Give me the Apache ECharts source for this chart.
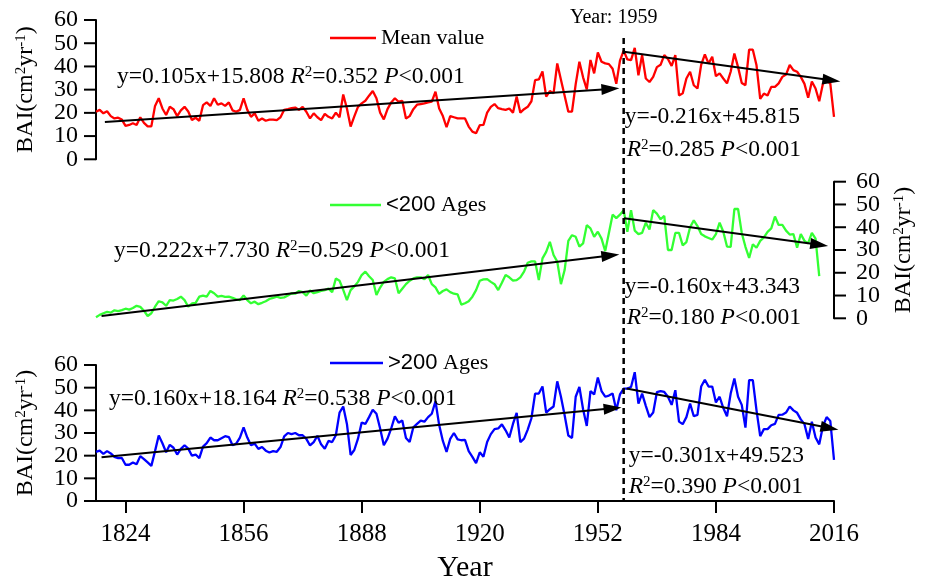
<!DOCTYPE html>
<html><head><meta charset="utf-8">
<script src="https://cdn.jsdelivr.net/npm/echarts@6/dist/echarts.min.js"></script>
<style>html,body{margin:0;padding:0;background:#fff}#c{width:928px;height:584px}</style>
</head><body><div id="c"></div>
<script>
// ---------- data ----------
const startYear = 1816;
const xTicks = [1824, 1856, 1888, 1920, 1952, 1984, 2016];
const yTicks = [0, 10, 20, 30, 40, 50, 60];
const breakYear = 1959;

// Mean value, 1816-2016
const meanValues = [
  20.5,21.3,19.8,20.7,18.6,17.6,17.9,17.1,14.4,14.8,
  15.5,14.8,18.1,15.7,14.2,14.2,23.0,26.3,21.9,19.1,
  22.6,21.6,18.6,21.1,22.6,20.6,16.9,17.9,16.6,23.3,
  24.5,23.0,26.3,23.5,24.1,23.0,24.5,21.1,20.5,21.3,
  26.3,21.3,18.3,19.8,16.6,17.6,16.6,17.1,17.1,16.9,
  18.1,21.3,21.6,22.0,22.3,21.3,22.6,20.5,17.6,19.8,
  18.1,16.9,19.6,18.3,17.6,20.1,18.1,27.9,21.9,14.1,
  18.5,22.6,24.1,25.2,27.4,29.4,26.3,20.1,17.2,21.6,
  24.5,26.3,24.8,25.2,17.6,18.6,21.6,23.5,23.8,24.1,
  24.5,24.8,29.1,21.9,18.6,13.8,18.6,18.1,17.6,17.6,
  17.6,14.1,11.9,11.2,14.7,14.8,20.1,22.6,23.8,22.0,
  21.6,21.3,21.9,20.1,27.0,20.1,21.6,22.6,25.0,34.1,
  34.4,37.8,27.0,29.4,28.4,41.3,34.3,27.4,20.5,20.5,
  32.4,42.0,35.3,30.1,42.8,37.0,46.0,42.0,41.3,41.0,
  39.0,32.5,42.5,46.8,43.0,42.7,48.0,36.2,44.9,34.8,
  33.3,35.5,39.7,40.7,44.9,43.2,40.2,44.9,27.5,28.4,
  34.8,37.7,31.9,30.5,40.7,45.2,41.2,44.2,35.8,37.0,
  34.8,32.7,37.7,45.6,39.7,32.9,31.9,47.2,47.2,40.5,
  26.0,28.3,27.5,31.2,31.2,32.7,35.5,36.5,40.6,38.4,
  37.7,35.5,32.5,26.5,33.5,30.5,25.0,32.5,34.0,32.6,
  18.3
];
// <200 Ages, 1816-2012
const youngValues = [
  0.5,1.5,2.2,2.8,2.5,3.5,3.2,3.6,4.2,3.8,
  4.5,5.5,5.0,3.3,1.0,2.2,5.1,7.5,7.0,5.5,
  8.0,7.8,8.5,9.5,8.0,5.1,6.5,6.8,9.5,10.0,
  9.5,12.0,11.0,9.5,9.8,9.4,9.5,9.0,8.3,8.0,
  10.0,8.0,6.6,7.3,6.2,6.8,7.5,8.5,9.0,9.5,
  9.0,9.2,10.0,11.0,10.8,12.0,11.5,10.0,12.2,11.0,
  11.5,12.0,12.4,13.0,11.5,17.5,16.5,12.5,8.0,12.4,
  14.0,16.0,19.0,20.5,18.5,16.8,10.2,13.5,16.0,17.2,
  18.0,17.5,11.0,13.0,15.0,16.5,17.5,18.0,18.0,17.1,
  19.0,15.0,13.6,10.7,12.0,12.7,11.5,10.8,10.5,6.0,
  6.6,7.5,9.5,12.4,16.5,17.1,17.2,16.0,15.0,12.4,
  15.6,19.0,18.0,16.6,16.8,18.0,20.5,24.4,25.0,25.0,
  16.8,26.3,29.2,33.6,27.8,24.9,15.0,21.2,34.0,36.5,
  35.8,31.5,32.9,40.9,39.5,35.8,38.0,35.0,29.5,37.5,
  45.5,44.0,45.5,47.5,38.0,47.5,38.5,37.0,37.5,42.0,
  39.0,47.5,46.0,43.5,45.0,30.0,30.0,37.5,37.5,32.0,
  33.5,40.0,43.0,40.5,37.0,36.0,35.3,34.6,37.0,42.0,
  38.0,31.5,31.4,48.0,48.0,37.5,31.4,26.5,32.5,31.0,
  34.0,35.5,38.0,39.5,44.7,41.0,41.0,38.5,36.8,37.0,
  31.0,37.0,34.0,33.0,37.5,35.0,18.5
];
// >200 Ages, 1816-2016
const oldValues = [
  21.7,22.2,20.8,22.0,21.0,19.5,18.9,19.0,16.0,16.0,
  17.0,16.2,19.8,18.5,17.0,15.5,22.0,28.9,25.5,21.5,
  24.8,23.5,20.5,23.0,24.6,23.1,20.0,20.5,18.9,24.0,
  25.5,28.0,26.8,26.8,27.7,28.6,28.2,24.6,25.3,28.0,
  32.5,28.0,24.6,25.3,23.0,23.8,22.2,21.4,22.0,21.7,
  23.8,28.5,30.0,29.5,30.0,29.0,29.0,27.4,24.5,26.0,
  28.8,25.0,23.1,26.5,26.0,29.0,39.0,41.7,34.0,20.3,
  22.5,27.5,34.6,34.0,37.0,40.3,38.5,32.0,24.6,27.5,
  32.0,37.4,34.5,35.5,27.8,26.0,32.5,34.0,35.5,35.0,
  37.0,38.5,44.0,33.5,26.5,21.7,27.4,30.0,27.2,26.8,
  27.0,22.0,19.5,16.7,21.5,19.5,26.0,29.5,31.7,32.0,
  33.8,31.2,28.0,34.0,38.9,26.0,27.5,31.5,36.5,47.4,
  47.4,50.5,39.0,40.5,41.7,52.8,46.0,37.8,28.9,27.8,
  46.0,50.3,40.5,33.1,48.5,47.0,54.5,48.5,46.0,46.5,
  47.4,40.0,47.0,49.6,49.6,50.3,56.8,43.0,47.4,42.0,
  37.0,39.0,48.0,48.5,48.1,46.0,42.4,48.9,35.0,33.9,
  37.0,43.0,37.4,38.0,50.5,53.5,50.5,50.5,43.5,46.0,
  41.0,37.4,47.4,54.0,46.0,42.4,32.4,53.3,53.3,40.0,
  28.6,31.7,31.7,33.4,34.0,38.0,38.1,39.0,41.7,40.0,
  38.9,36.0,33.9,27.4,35.0,28.0,25.0,33.0,37.0,35.3,
  18.1
];
// trend arrows: [start, arrow-head] in [year, value]
const trendMean  = [[[1818.4, 16.1], [1955.4, 30.3]], [[1959.1, 46.3], [2015.3, 34.0]]];
const trendYoung = [[[1817.5, 1.0],  [1955.4, 27.6]], [[1959.1, 43.9], [2012.0, 32.3]]];
const trendOld   = [[[1817.5, 19.3], [1956.0, 40.9]], [[1959.8, 49.6], [2014.8, 32.2]]];
// equation texts
const eqMean  = ['y=0.105x+15.808', '0.352', 'y=-0.216x+45.815', '0.285'];
const eqYoung = ['y=0.222x+7.730',  '0.529', 'y=-0.160x+43.343', '0.180'];
const eqOld   = ['y=0.160x+18.164', '0.538', 'y=-0.301x+49.523', '0.390'];

// ---------- chart ----------
const SERIF = '"Liberation Serif","Times New Roman",serif';
const SANS = '"Liberation Sans",Arial,sans-serif';
const toPairs = vals => vals.map((v, i) => [startYear + i, v]);
const FS = 23.5;
const supRich = {
  s: {fontSize: 15, fontFamily: SERIF, verticalAlign: 'top', color: '#000'},
  i: {fontSize: FS, fontFamily: SERIF, fontStyle: 'italic', color: '#000'}
};
const grids = [
  {left: 96, top: 20, width: 738, height: 139.3},
  {left: 96, top: 181.7, width: 738, height: 136.6},
  {left: 96, top: 365, width: 738, height: 139}
];
const yName = 'BAI(cm{s|2}yr{s|-1})';

const xAxes = grids.map((g, i) => ({
  type: 'value', gridIndex: i, min: 1816, max: 2016, show: i === 2,
  axisLine: {show: true, onZero: false, lineStyle: {color: '#000', width: 2}},
  axisTick: {show: true, customValues: xTicks, length: 12, lineStyle: {color: '#000', width: 2}},
  axisLabel: {customValues: xTicks, fontSize: 25, fontFamily: SERIF, color: '#000', margin: 21,
              formatter: v => String(v)},
  splitLine: {show: false},
  name: i === 2 ? 'Year' : '', nameLocation: 'middle', nameGap: 52,
  nameTextStyle: {fontSize: 30, fontFamily: SERIF, color: '#000'}
}));
const yAxes = grids.map((g, i) => ({
  type: 'value', gridIndex: i, min: 0, max: 60, interval: 10,
  position: i === 1 ? 'right' : 'left',
  axisLine: {show: true, onZero: false, lineStyle: {color: '#000', width: 2}},
  axisTick: {show: false},
  axisLabel: {show: false},
  splitLine: {show: false},
  name: yName, nameLocation: 'middle', nameRotate: 90, nameGap: 58,
  nameTextStyle: {fontSize: 24, fontFamily: SERIF, color: '#000',
    rich: {s: {fontSize: 15, fontFamily: SERIF, color: '#000', verticalAlign: 'top'}}}
}));

function mkSeries(name, vals, trend, color, idx) {
  return {
    type: 'line', name, xAxisIndex: idx, yAxisIndex: idx, data: toPairs(vals),
    symbol: 'none', showSymbol: false, clip: false,
    lineStyle: {color, width: 2.3}, itemStyle: {color},
    markLine: {
      silent: true, symbol: ['none', 'triangle'], symbolSize: [11, 18],
      lineStyle: {color: '#000', width: 2, type: 'solid'},
      itemStyle: {color: '#000'},
      label: {show: false}, emphasis: {disabled: true},
      data: trend.map(seg => [{coord: seg[0]}, {coord: seg[1]}])
    }
  };
}

const legendBase = {
  orient: 'horizontal', icon: 'rect', itemHeight: 2.5, selectedMode: false, padding: 0,
  textStyle: {fontSize: 22, fontFamily: SERIF, color: '#000', rich: {s: {fontSize: 22, fontFamily: SANS, color: '#000'}}}
};

const option = {
  animation: false,
  backgroundColor: '#fff',
  grid: grids,
  xAxis: xAxes,
  yAxis: yAxes,
  legend: [
    Object.assign({}, legendBase, {data: ['Mean value'], left: 330, top: 27, itemWidth: 46}),
    Object.assign({}, legendBase, {data: ['<200 Ages'], left: 330, top: 194, itemWidth: 51, formatter: '{s|<200} Ages'}),
    Object.assign({}, legendBase, {data: ['>200 Ages'], left: 330, top: 352, itemWidth: 53, formatter: '{s|>200} Ages'})
  ],
  series: [
    mkSeries('Mean value', meanValues, trendMean, '#ff0000', 0),
    mkSeries('<200 Ages', youngValues, trendYoung, '#33ff33', 1),
    mkSeries('>200 Ages', oldValues, trendOld, '#0000ff', 2)
  ]
};

const chart = echarts.init(document.getElementById('c'), null, {renderer: 'canvas'});
chart.setOption(option);

const bx = chart.convertToPixel({xAxisIndex: 2}, breakYear);
function eqText(x, y, str) {
  return {type: 'text', x, y, silent: true, z: 100,
    style: {text: str, fontSize: FS, fontFamily: SERIF, fill: '#000', verticalAlign: 'middle', rich: supRich}};
}
function full(eq) { return eq[0] + ' {i|R}{s|2}=' + eq[1] + ' {i|P}<0.001'; }
function second(eq) { return '{i|R}{s|2}=' + eq[3] + ' {i|P}<0.001'; }

// y-axis tick marks and tick labels placed through the library's scales
const tickGraphics = [];
[0, 1, 2].forEach(gi => {
  const right = gi === 1;
  const ax = chart.convertToPixel({xAxisIndex: gi}, right ? 2016 : 1816);
  yTicks.forEach(v => {
    const py = chart.convertToPixel({yAxisIndex: gi}, v);
    tickGraphics.push({type: 'line', silent: true, z: 50,
      shape: {x1: ax, y1: py, x2: right ? ax + 12 : ax - 12, y2: py},
      style: {stroke: '#000', lineWidth: 2}});
    tickGraphics.push({type: 'text', silent: true, z: 50,
      x: right ? ax + 22 : ax - 18, y: py,
      style: {text: String(v), fontSize: 24, fontFamily: SERIF, fill: '#000',
              align: right ? 'left' : 'right', verticalAlign: 'middle'}});
  });
});

chart.setOption({
  graphic: tickGraphics.concat([
    {type: 'line', silent: true, z: 90, shape: {x1: bx, y1: 38, x2: bx, y2: 501},
     style: {stroke: '#000', lineWidth: 2.5, lineDash: [6, 4]}},
    {type: 'text', x: bx - 10, y: 18, silent: true,
     style: {text: 'Year: 1959', fontSize: 20, fontFamily: SERIF, fill: '#000', align: 'center', verticalAlign: 'middle'}},
    eqText(117, 77, full(eqMean)),
    eqText(bx + 1, 117, eqMean[2]),
    eqText(bx + 3, 150, second(eqMean)),
    eqText(114, 251, full(eqYoung)),
    eqText(bx + 1, 287, eqYoung[2]),
    eqText(bx + 3, 318, second(eqYoung)),
    eqText(109, 399, full(eqOld)),
    eqText(bx + 5, 456, eqOld[2]),
    eqText(bx + 5, 487, second(eqOld))
  ])
});
</script></body></html>
